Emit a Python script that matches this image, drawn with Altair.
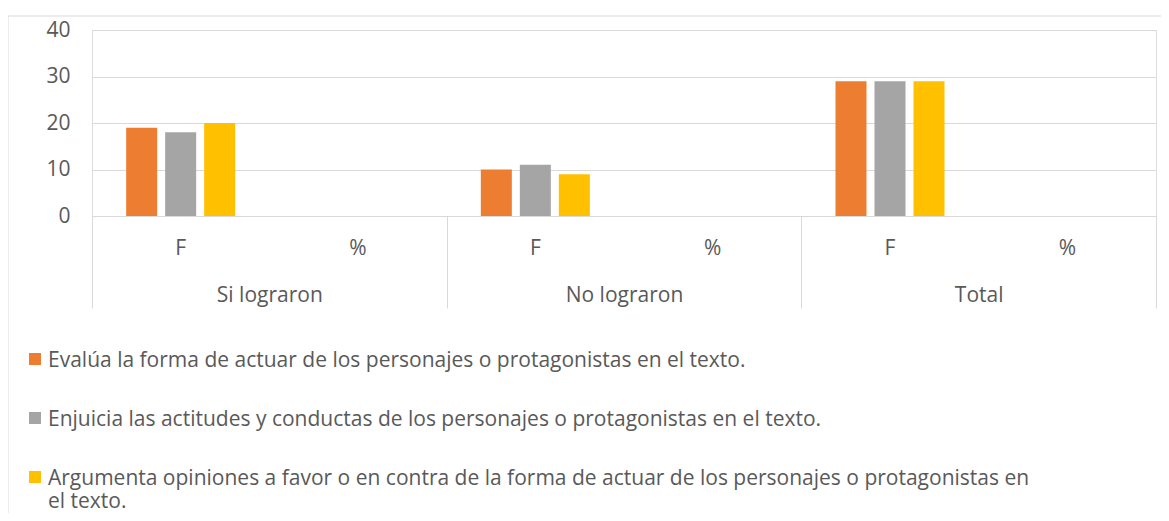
import altair as alt
import pandas as pd

# ---- data ----
groups = ["Si lograron", "No lograron", "Total"]
subcats = ["F", "%"]
series = [
    "Evalúa la forma de actuar de los personajes o protagonistas en el texto.",
    "Enjuicia las actitudes y conductas de los personajes o protagonistas en el texto.",
    "Argumenta opiniones a favor o en contra de la forma de actuar de los personajes o protagonistas en el texto.",
]
legend_labels = [
    "Evalúa la forma de actuar de los personajes o protagonistas en el texto.",
    "Enjuicia las actitudes y conductas de los personajes o protagonistas en el texto.",
    "Argumenta opiniones a favor o en contra de la forma de actuar de los personajes o protagonistas en\nel texto.",
]
colors = ["#ED7D31", "#A5A5A5", "#FFC000"]
f_si = [19, 18, 20]
f_no = [10, 11, 9]
f_total = [29, 29, 29]
pct_si = [0, 0, 0]
pct_no = [0, 0, 0]
pct_total = [0, 0, 0]
y_ticks = [0, 10, 20, 30, 40]

FONT = "Open Sans"
TXT = "#595959"
LINE = "#D9D9D9"
FS = 21

values = {
    ("Si lograron", "F"): f_si, ("Si lograron", "%"): pct_si,
    ("No lograron", "F"): f_no, ("No lograron", "%"): pct_no,
    ("Total", "F"): f_total, ("Total", "%"): pct_total,
}
keys = [f"{g}|{s}" for g in groups for s in subcats]
rows = []
for g in groups:
    for s in subcats:
        for ser, v in zip(series, values[(g, s)]):
            rows.append({"key": f"{g}|{s}", "group": g, "sub": s, "series": ser, "value": v})
df = pd.DataFrame(rows)
gdf = pd.DataFrame({"group": groups})
ldf = pd.DataFrame({"series": series, "label": legend_labels})
one = pd.DataFrame({"a": [0]})

color_scale = alt.Scale(domain=series, range=colors)

bars = alt.Chart(df).mark_bar().encode(
    x=alt.X("key:N", scale=alt.Scale(domain=keys, paddingInner=0, paddingOuter=0),
            axis=alt.Axis(title=None, ticks=False, domain=True, domainColor=LINE, domainWidth=1,
                          labelAngle=0, labelBaseline="middle", labelPadding=32,
                          labelFontSize=FS, labelColor=TXT, labelFont=FONT, grid=False,
                          labelExpr="split(datum.label, '|')[1]")),
    xOffset=alt.XOffset("series:N", scale=alt.Scale(domain=series, paddingInner=0.205, paddingOuter=0.876)),
    y=alt.Y("value:Q", scale=alt.Scale(domain=[0, 40]),
            axis=alt.Axis(title=None, values=y_ticks, ticks=False, domain=False, grid=True,
                          gridColor=LINE, gridWidth=1, labelPadding=22, labelFontSize=FS,
                          labelColor=TXT, labelFont=FONT)),
    color=alt.Color("series:N", scale=color_scale, legend=None),
)

grp = alt.Chart(gdf).mark_point(opacity=0).encode(
    x=alt.X("group:N", scale=alt.Scale(domain=groups, paddingInner=0, paddingOuter=0),
            axis=alt.Axis(orient="bottom", offset=0, title=None, domain=False, ticks=True,
                          tickBand="extent", tickSize=92, tickColor=LINE, tickWidth=1,
                          labelAngle=0, labelBaseline="middle", labelPadding=-13,
                          labelFontSize=FS, labelColor=TXT, labelFont=FONT, grid=False)),
)

leg_y = alt.Y("series:N", scale=alt.Scale(domain=series, range=[329, 447], padding=0), axis=None)
leg_sq = alt.Chart(ldf).mark_square(size=144, opacity=1).encode(
    x=alt.value(-57),
    y=leg_y,
    color=alt.Color("series:N", scale=color_scale, legend=None),
)
leg_tx = alt.Chart(ldf).mark_text(align="left", baseline="alphabetic", dy=8, lineBreak="\n",
                                  lineHeight=23, fontSize=FS, font=FONT, color=TXT).encode(
    x=alt.value(-44),
    y=leg_y,
    text="label:N",
)

border_top = alt.Chart(one).mark_rule(color=LINE, strokeWidth=1).encode(
    x=alt.value(-84), x2=alt.value(1069), y=alt.value(-14))
border_left = alt.Chart(one).mark_rule(color=LINE, strokeWidth=1).encode(
    x=alt.value(-84), y=alt.value(-14), y2=alt.value(483))

chart = alt.layer(bars, grp, leg_sq, leg_tx, border_top, border_left).resolve_scale(
    x="independent", y="independent"
).properties(
    width=1064, height=186,
    autosize=alt.AutoSizeParams(type="none"),
    padding={"left": 84, "top": 22, "right": 5, "bottom": 297},
).configure_view(stroke=None).configure(font=FONT, background="white")

chart.save("out.html", embed_options={"renderer": "svg", "actions": False})
